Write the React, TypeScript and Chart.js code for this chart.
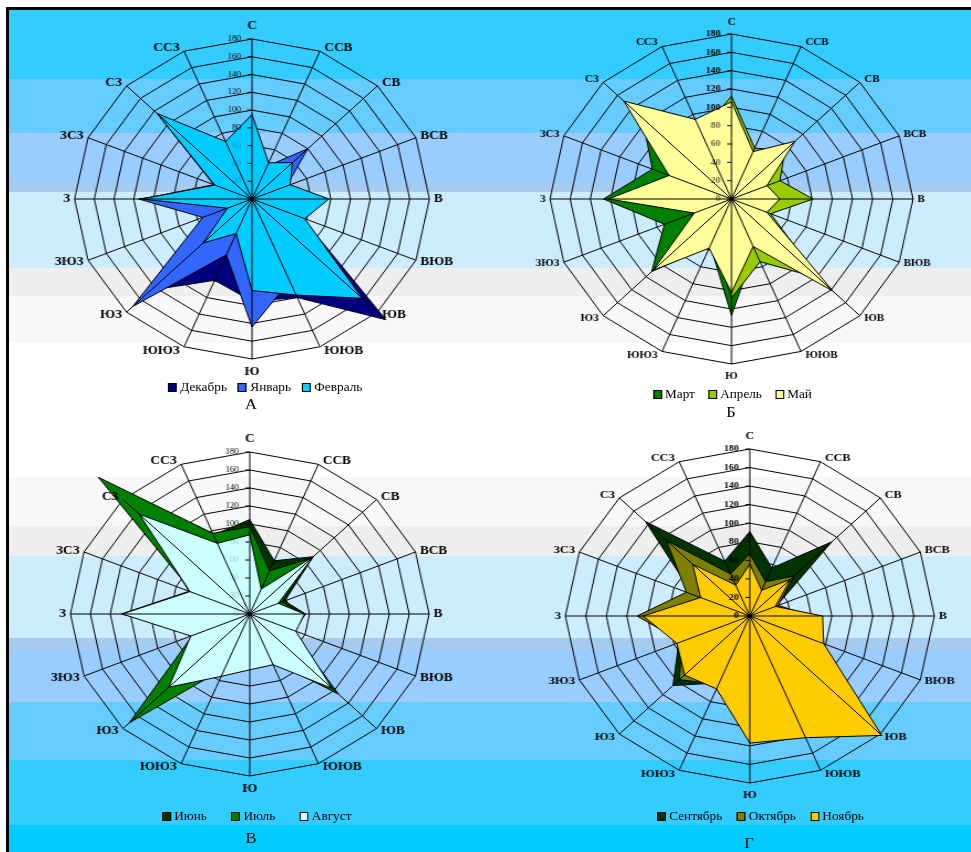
import React, { useEffect, useRef } from 'react';
import { Chart, registerables } from 'chart.js';

Chart.register(...registerables);

// Compass points, clockwise from north
const DIRECTIONS = ['С', 'ССВ', 'СВ', 'ВСВ', 'В', 'ВЮВ', 'ЮВ', 'ЮЮВ', 'Ю', 'ЮЮЗ', 'ЮЗ', 'ЗЮЗ', 'З', 'ЗСЗ', 'СЗ', 'ССЗ'];
const SCALE_MAX = 180;
const SCALE_STEP = 20;

// Winter
const DECEMBER = [80, 40, 50, 35, 70, 55, 192, 120, 115, 99, 145, 45, 112, 42, 136, 60];
const JANUARY = [85, 40, 80, 38, 72, 50, 150, 100, 144, 68, 171, 54, 115, 35, 120, 60];
const FEBRUARY = [95, 44, 58, 42, 78, 58, 158, 117, 103, 42, 70, 27, 112, 41, 136, 70];

// Spring
const MARCH = [108, 50, 70, 40, 80, 40, 120, 60, 127, 55, 112, 72, 127, 85, 125, 80];
const APRIL = [112, 60, 75, 52, 81, 42, 122, 74, 108, 50, 90, 35, 100, 55, 120, 80];
const MAY = [106, 56, 89, 38, 48, 38, 142, 56, 102, 58, 110, 40, 122, 67, 151, 94];

// Summer
const JUNE = [105, 64, 90, 38, 56, 48, 110, 55, 55, 60, 150, 55, 129, 66, 150, 95];
const JULY = [97, 52, 88, 35, 52, 45, 126, 55, 58, 65, 171, 62, 126, 62, 215, 97];
const AUGUST = [88, 30, 90, 31, 55, 50, 117, 61, 62, 75, 115, 64, 128, 65, 157, 85];

// Autumn
const SEPTEMBER = [91, 56, 113, 28, 45, 60, 160, 120, 120, 78, 106, 75, 105, 60, 144, 64];
const OCTOBER = [67, 40, 61, 30, 60, 70, 170, 130, 125, 80, 97, 72, 110, 67, 115, 49];
const NOVEMBER = [56, 30, 56, 27, 71, 78, 182, 142, 137, 85, 90, 77, 104, 52, 79, 36];

const SERIF = '"Liberation Serif", "Times New Roman", serif';
const PAD = 60;

// Horizontal background bands: colour down to the given page y
const BANDS: [number, string][] = [
  [79, '#33CCFF'],
  [133, '#66CCFF'],
  [182, '#99CCFF'],
  [192, '#A6CAF0'],
  [268, '#CCECFF'],
  [296, '#EEEEEE'],
  [343, '#F8F8F8'],
  [477, '#FFFFFF'],
  [526, '#F8F8F8'],
  [556, '#EEEEEE'],
  [638, '#CCECFF'],
  [650, '#A6CAF0'],
  [702, '#99CCFF'],
  [760, '#66CCFF'],
  [825, '#33CCFF'],
  [860, '#00CCFF'],
];

type Series = { label: string; data: number[]; color: string };

type RoseSpec = {
  series: Series[];
  letter: string;
  cx: number;
  cy: number;
  radius: number;
  stretch: number;
  labelFont: number;
  tickFont: number;
  tickBold: boolean;
  fadeBelow: number;
  fadeColor: string;
  legendX: number;
  legendY: number;
  legendGap: number;
  letterX: number;
  letterY: number;
};

const ROSES: RoseSpec[] = [
  {
    series: [
      { label: 'Декабрь', data: DECEMBER, color: '#000080' },
      { label: 'Январь', data: JANUARY, color: '#3366FF' },
      { label: 'Февраль', data: FEBRUARY, color: '#00CCFF' },
    ],
    letter: 'А', cx: 252, cy: 199, radius: 160, stretch: 1.109,
    labelFont: 12, tickFont: 8, tickBold: false, fadeBelow: 60, fadeColor: 'rgba(0,0,0,0.25)',
    legendX: 168, legendY: 387, legendGap: 10, letterX: 251, letterY: 404,
  },
  {
    series: [
      { label: 'Март', data: MARCH, color: '#008000' },
      { label: 'Апрель', data: APRIL, color: '#99CC00' },
      { label: 'Май', data: MAY, color: '#FFFF99' },
    ],
    letter: 'Б', cx: 731.5, cy: 198.5, radius: 165, stretch: 1.1,
    labelFont: 10, tickFont: 9, tickBold: true, fadeBelow: 80, fadeColor: 'rgba(0,0,0,0.6)',
    legendX: 653, legendY: 394, legendGap: 12, letterX: 731, letterY: 412,
  },
  {
    series: [
      { label: 'Июнь', data: JUNE, color: '#003300' },
      { label: 'Июль', data: JULY, color: '#008000' },
      { label: 'Август', data: AUGUST, color: '#CCFFFF' },
    ],
    letter: 'В', cx: 250, cy: 613.5, radius: 162, stretch: 1.107,
    labelFont: 12, tickFont: 8, tickBold: false, fadeBelow: 80, fadeColor: 'rgba(0,0,0,0.25)',
    legendX: 162, legendY: 816, legendGap: 22, letterX: 251, letterY: 838,
  },
  {
    series: [
      { label: 'Сентябрь', data: SEPTEMBER, color: '#003300' },
      { label: 'Октябрь', data: OCTOBER, color: '#808000' },
      { label: 'Ноябрь', data: NOVEMBER, color: '#FFCC00' },
    ],
    letter: 'Г', cx: 750, cy: 616, radius: 167, stretch: 1.105,
    labelFont: 11, tickFont: 9, tickBold: true, fadeBelow: -1, fadeColor: '#000',
    legendX: 657, legendY: 816, legendGap: 13, letterX: 749, letterY: 843,
  },
];

// Spokes, value ticks and compass labels drawn over the filled areas
function roseOverlay(spec: RoseSpec) {
  return {
    id: 'roseOverlay',
    afterDatasetsDraw(chart: any) {
      const scale = chart.scales.r;
      const ctx: CanvasRenderingContext2D = chart.ctx;
      const labels: string[] = chart.data.labels;
      const n = labels.length;
      const outer = scale.drawingArea;
      const xc = scale.xCenter;
      const yc = scale.yCenter;
      ctx.save();
      ctx.strokeStyle = '#000';
      ctx.lineWidth = 1;
      ctx.beginPath();
      for (let i = 0; i < n; i++) {
        const p = scale.getPointPosition(i, outer);
        ctx.moveTo(xc, yc);
        ctx.lineTo(p.x, p.y);
      }
      ctx.stroke();

      ctx.font = `${spec.tickBold ? 'bold ' : ''}${spec.tickFont}px ${SERIF}`;
      ctx.textAlign = 'right';
      ctx.textBaseline = 'middle';
      for (const t of scale.ticks) {
        const y = yc - scale.getDistanceFromCenterForValue(t.value);
        ctx.beginPath();
        ctx.moveTo(xc - 4, y);
        ctx.lineTo(xc, y);
        ctx.stroke();
        ctx.fillStyle = t.value <= spec.fadeBelow ? spec.fadeColor : '#000';
        ctx.fillText(String(t.value), xc - 10, y);
      }

      ctx.font = `bold ${spec.labelFont}px ${SERIF}`;
      ctx.fillStyle = '#000';
      ctx.textAlign = 'center';
      ctx.textBaseline = 'middle';
      labels.forEach((lab, i) => {
        const p = scale.getPointPosition(i, outer);
        const ang = (i * 2 * Math.PI) / n;
        const w = ctx.measureText(lab).width;
        let x = p.x;
        let y = p.y;
        if (i === 0 || i === n / 2) {
          y += (i === 0 ? -1 : 1) * (spec.labelFont / 2 + 7);
        } else {
          x += Math.sign(Math.sin(ang)) * (w / 2 + 4);
          y -= Math.cos(ang) * 4;
        }
        ctx.fillText(lab, x, y);
      });
      ctx.restore();
    },
  };
}

function WindRose({ spec }: { spec: RoseSpec }) {
  const ref = useRef<HTMLCanvasElement>(null);
  const size = 2 * (spec.radius + PAD);
  const left = Math.round(spec.cx - (spec.stretch * size) / 2);
  const top = Math.round(spec.cy - size / 2);

  useEffect(() => {
    const count = spec.series.length;
    const chart = new Chart(ref.current as HTMLCanvasElement, {
      type: 'radar',
      data: {
        labels: DIRECTIONS,
        datasets: spec.series.map((s, i) => ({
          label: s.label,
          data: s.data,
          backgroundColor: s.color,
          borderColor: '#000',
          borderWidth: 1,
          fill: true,
          pointRadius: 0,
          pointHoverRadius: 0,
          tension: 0,
          clip: false,
          order: count - 1 - i,
        })),
      },
      options: {
        animation: false,
        responsive: false,
        maintainAspectRatio: false,
        devicePixelRatio: 1,
        layout: { padding: PAD },
        events: [],
        plugins: { legend: { display: false }, tooltip: { enabled: false } },
        scales: {
          r: {
            min: 0,
            max: SCALE_MAX,
            ticks: { stepSize: SCALE_STEP, display: false },
            grid: { color: '#000', lineWidth: 1, circular: false },
            angleLines: { display: false },
            pointLabels: { display: false },
          },
        },
      } as any,
      plugins: [roseOverlay(spec)],
    });
    return () => chart.destroy();
  }, [spec]);

  return (
    <div
      style={{
        position: 'absolute',
        left,
        top,
        width: size,
        height: size,
        transform: `scaleX(${spec.stretch})`,
        transformOrigin: '0 0',
      }}
    >
      <canvas ref={ref} width={size} height={size} style={{ display: 'block' }} />
      <div
        style={{
          position: 'absolute',
          left: (spec.legendX - left) / spec.stretch,
          top: spec.legendY - top - 8,
          height: 16,
          display: 'flex',
          alignItems: 'center',
          whiteSpace: 'nowrap',
          fontFamily: SERIF,
          fontSize: 12,
          color: '#000',
          gap: spec.legendGap,
        }}
      >
        {spec.series.map((s) => (
          <div key={s.label} style={{ display: 'flex', alignItems: 'center' }}>
            <span
              style={{
                display: 'inline-block',
                width: 6,
                height: 7,
                background: s.color,
                border: '1px solid #000',
                marginRight: 3,
              }}
            />
            <span>{s.label}</span>
          </div>
        ))}
      </div>
      <div
        style={{
          position: 'absolute',
          left: (spec.letterX - left) / spec.stretch,
          top: spec.letterY - top - 9,
          transform: 'translateX(-50%)',
          fontFamily: SERIF,
          fontSize: 15,
          lineHeight: '18px',
          color: '#000',
        }}
      >
        {spec.letter}
      </div>
    </div>
  );
}

export default function App() {
  const bandTop = 10;
  let prev = 0;
  const stops = BANDS.map(([until, color]) => {
    const a = prev;
    const b = until - bandTop;
    prev = b;
    return `${color} ${a}px, ${color} ${b}px`;
  }).join(', ');

  return (
    <div
      style={{
        position: 'absolute',
        left: 0,
        top: 0,
        width: 971,
        height: 852,
        overflow: 'hidden',
        background: '#FFFFFF',
      }}
    >
      <div
        style={{
          position: 'absolute',
          left: 6,
          top: 7,
          right: 0,
          bottom: 0,
          borderLeft: '3px solid #000',
          borderTop: '3px solid #000',
          background: `linear-gradient(to bottom, ${stops})`,
        }}
      />
      {ROSES.map((spec) => (
        <WindRose key={spec.letter} spec={spec} />
      ))}
    </div>
  );
}
